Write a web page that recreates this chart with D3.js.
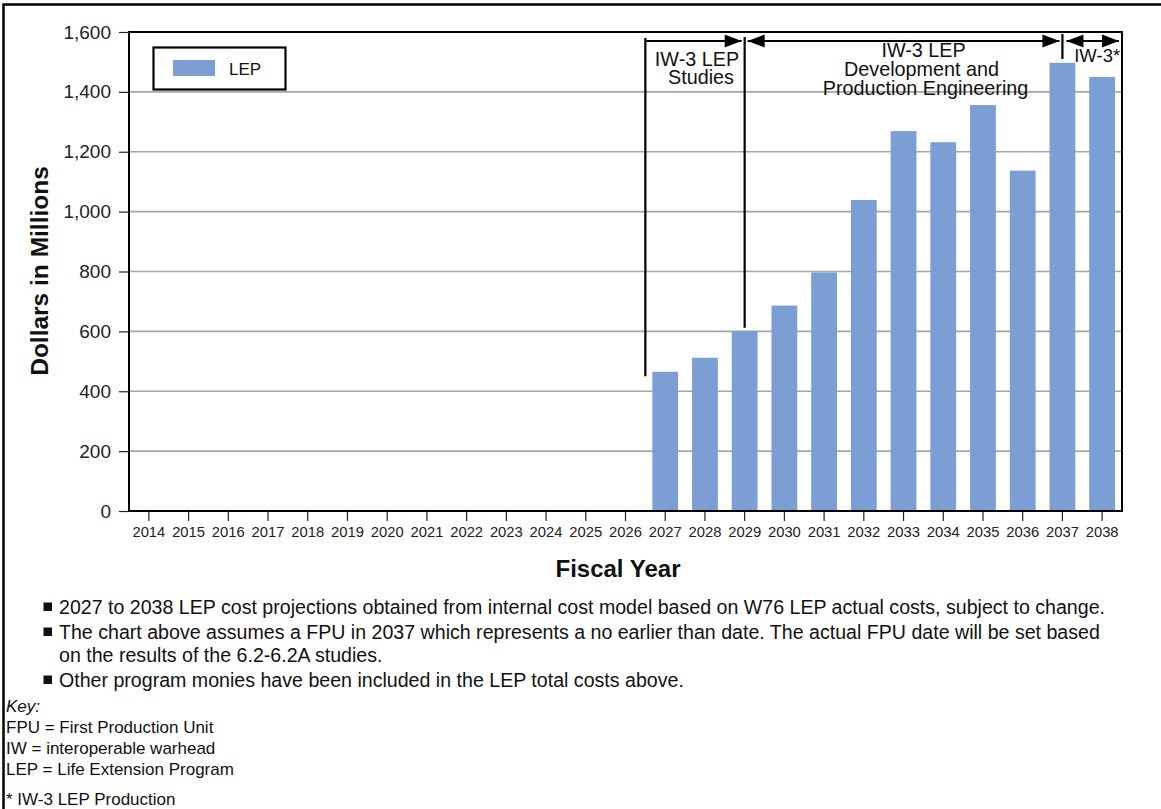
<!DOCTYPE html>
<html><head><meta charset="utf-8">
<script src="https://cdn.jsdelivr.net/npm/d3@7"></script>
<style>
html,body{margin:0;padding:0;background:#fff;}
svg{display:block;font-family:"Liberation Sans",Arial,Helvetica,sans-serif;}
</style></head>
<body>
<svg id="chart" width="1161" height="809"></svg>
<script>
const years = ["2014","2015","2016","2017","2018","2019","2020","2021","2022","2023","2024","2025","2026","2027","2028","2029","2030","2031","2032","2033","2034","2035","2036","2037","2038"];
const lepValues = [0,0,0,0,0,0,0,0,0,0,0,0,0,465,512,601,686,797,1039,1269,1232,1356,1137,1497,1450];
const yTicks = [0,200,400,600,800,1000,1200,1400,1600];
const seriesName = "LEP";
const phaseLabels = [
  {lines:["IW-3 LEP","Studies"]},
  {lines:["IW-3 LEP","Development and","Production Engineering"]},
  {lines:["IW-3*"]}
];
const bullets = [
  ["2027 to 2038 LEP cost projections obtained from internal cost model based on W76 LEP actual costs, subject to change."],
  ["The chart above assumes a FPU in 2037 which represents a no earlier than date. The actual FPU date will be set based","on the results of the 6.2-6.2A studies."],
  ["Other program monies have been included in the LEP total costs above."]
];
const keyTitle = "Key:";
const keyLines = ["FPU = First Production Unit","IW = interoperable warhead","LEP = Life Extension Program"];
const footnote = "* IW-3 LEP Production";

const svg = d3.select("#chart");
const M = {left:129, right:1122, top:32, bottom:511};
const x = d3.scaleBand().domain(years).range([M.left, M.right]).paddingInner(0.35).paddingOuter(0.175);
const y = d3.scaleLinear().domain([0,1600]).range([M.bottom, M.top]);
const barColor = "#7b9fd4";

// outer frame
svg.append("path").attr("d", "M3.5,812 L3.5,4.5 L1165,4.5").attr("fill","none").attr("stroke","#000").attr("stroke-width",2.5);

// gridlines
svg.append("g").selectAll("line").data(yTicks.filter(d=>d>0 && d<1600)).join("line")
  .attr("x1", M.left).attr("x2", M.right).attr("y1", d=>y(d)).attr("y2", d=>y(d))
  .attr("stroke","#a6a6a6").attr("stroke-width",1.6);

// bars
svg.append("g").selectAll("rect").data(years.map((yr,i)=>({yr, v:lepValues[i]})).filter(d=>d.v>0)).join("rect")
  .attr("x", d=>x(d.yr)).attr("width", x.bandwidth())
  .attr("y", d=>y(d.v)).attr("height", d=>y(0)-y(d.v))
  .attr("fill", barColor);

// plot frame
svg.append("rect").attr("x",M.left).attr("y",M.top).attr("width",M.right-M.left).attr("height",M.bottom-M.top)
  .attr("fill","none").attr("stroke","#000").attr("stroke-width",2);

// y axis
const yAxis = d3.axisLeft(y).tickValues(yTicks).tickFormat(d3.format(",")).tickSize(10).tickPadding(8);
const gy = svg.append("g").attr("transform",`translate(${M.left},0)`).call(yAxis);
gy.select(".domain").remove();
gy.selectAll(".tick line").attr("stroke","#222").attr("stroke-width",1.2);
gy.selectAll(".tick text").attr("font-size",19).attr("fill","#222").attr("font-family","Liberation Sans, Arial, sans-serif");

// x axis
const xAxis = d3.axisBottom(x).tickSize(10).tickPadding(5);
const gx = svg.append("g").attr("transform",`translate(0,${M.bottom})`).call(xAxis);
gx.select(".domain").remove();
gx.selectAll(".tick line").attr("stroke","#222").attr("stroke-width",1.2);
gx.selectAll(".tick text").attr("font-size",14.8).attr("fill","#222").attr("font-family","Liberation Sans, Arial, sans-serif");

// axis titles
svg.append("text").attr("transform","translate(48,271) rotate(-90)").attr("text-anchor","middle")
  .attr("font-size",24.5).attr("font-weight","bold").attr("fill","#111").text("Dollars in Millions");
svg.append("text").attr("x",618).attr("y",577).attr("text-anchor","middle")
  .attr("font-size",24).attr("font-weight","bold").attr("fill","#111").text("Fiscal Year");

// legend
svg.append("rect").attr("x",153.5).attr("y",47.5).attr("width",132).attr("height",42).attr("fill","#fff").attr("stroke","#000").attr("stroke-width",2.2);
svg.append("rect").attr("x",173).attr("y",60).attr("width",42).attr("height",16).attr("fill",barColor);
svg.append("text").attr("x",229).attr("y",75).attr("font-size",17).attr("fill","#111").text(seriesName);

// phase annotations
const gapHalf = (x.step() - x.bandwidth())/2;
const bound = yr => x(yr) - gapHalf;          // band boundary before year
const center = yr => x(yr) + x.bandwidth()/2;  // band centre
const arrowY = 41;
const vlines = [
  {x: bound("2027"), y1: 38, v: 450},
  {x: center("2029"), y1: 37, v: 612},
  {x: center("2037"), y1: 34, v: 1510}
];
const ann = svg.append("g");
ann.selectAll("line").data(vlines).join("line")
  .attr("x1",d=>d.x).attr("x2",d=>d.x).attr("y1",d=>d.y1).attr("y2",d=>y(d.v))
  .attr("stroke","#000").attr("stroke-width",2.2);

function head(xTip, dir){ // dir=1 pointing right, -1 left
  const L=17, H=6.5;
  return `M${xTip},${arrowY} L${xTip-dir*L},${arrowY-H} L${xTip-dir*L},${arrowY+H} Z`;
}
const arrows = [
  {x1: vlines[0].x+1, x2: vlines[1].x-3, left:false, right:true},
  {x1: vlines[1].x+3, x2: vlines[2].x-3, left:true, right:true},
  {x1: vlines[2].x+4, x2: M.right-3, left:true, right:true}
];
arrows.forEach(a=>{
  ann.append("line").attr("x1",a.x1).attr("x2",a.x2).attr("y1",arrowY).attr("y2",arrowY).attr("stroke","#000").attr("stroke-width",2.2);
  if(a.right) ann.append("path").attr("d",head(a.x2,1)).attr("fill","#000");
  if(a.left) ann.append("path").attr("d",head(a.x1,-1)).attr("fill","#000");
});

const labelPos = [
  {cx: (vlines[0].x+vlines[1].x)/2 + 2, y0: 66, dy: 17.5, fs: 19.8, dx:[0,4]},
  {cx: (vlines[1].x+vlines[2].x)/2 + 20, y0: 56.5, dy: 19, fs: 19.8, dx:[0,-2,2]},
  {cx: (vlines[2].x+M.right)/2 + 5, y0: 62, dy: 18, fs: 18.5, dx:[0]}
];
phaseLabels.forEach((p,i)=>{
  const lp = labelPos[i];
  p.lines.forEach((ln,j)=>{
    ann.append("text").attr("text-anchor","middle").attr("font-size",lp.fs).attr("fill","#111")
      .attr("x",lp.cx + lp.dx[j]).attr("y",lp.y0 + j*lp.dy).text(ln);
  });
});

// bullets
const notes = svg.append("g").attr("fill","#111");
const bulletY = [614, 639, 687];
bullets.forEach((b,i)=>{
  notes.append("rect").attr("x",43.5).attr("y",bulletY[i]-11.5).attr("width",8.5).attr("height",8.5).attr("fill","#111");
  b.forEach((ln,j)=>{
    notes.append("text").attr("x",59).attr("y",bulletY[i]+j*23).attr("font-size",19.6).text(ln);
  });
});
notes.append("text").attr("x",6).attr("y",712).attr("font-size",17).attr("font-style","italic").text(keyTitle);
keyLines.forEach((k,i)=>{
  notes.append("text").attr("x",6).attr("y",733+i*21).attr("font-size",17).text(k);
});
notes.append("text").attr("x",6).attr("y",805).attr("font-size",17).text(footnote);
</script>
</body></html>
